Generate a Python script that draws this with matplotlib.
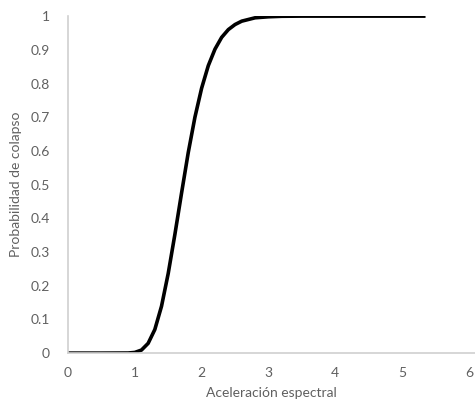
import matplotlib.pyplot as plt

# curva de fragilidad
aceleracion = [0, 0.5, 0.9, 1.0, 1.1, 1.2, 1.3, 1.4, 1.5, 1.6, 1.7, 1.8, 1.9, 2.0,
               2.1, 2.2, 2.3, 2.4, 2.5, 2.6, 2.8, 3.0, 3.2, 3.5, 4.0, 5.35]
probabilidad = [0, 0, 0.0003, 0.002, 0.009, 0.029, 0.07, 0.139, 0.236, 0.352, 0.475,
                0.595, 0.70, 0.786, 0.853, 0.902, 0.937, 0.96, 0.975, 0.985, 0.995,
                0.998, 0.9995, 1.0, 1.0, 1.0]
xticks = [0, 1, 2, 3, 4, 5, 6]
yticks = [0, 0.1, 0.2, 0.3, 0.4, 0.5, 0.6, 0.7, 0.8, 0.9, 1]
ylabels = ["0", "0.1", "0.2", "0.3", "0.4", "0.5", "0.6", "0.7", "0.8", "0.9", "1"]

plt.rcParams['font.family'] = ['Lato', 'DejaVu Sans']
gris = "#606060"

fig = plt.figure(figsize=(4.75, 4.13), dpi=100)
ax = fig.add_axes([0.143, 0.145, 0.857, 0.816])
ax.plot(aceleracion, probabilidad, color="black", lw=2.6, solid_capstyle="butt")

ax.set_xlim(0, 6.09)
ax.set_ylim(0, 1)
ax.set_xticks(xticks)
ax.set_yticks(yticks)
ax.set_yticklabels(ylabels)
ax.tick_params(length=0, labelsize=10, colors=gris, pad=10)
ax.tick_params(axis="y", pad=13)
for s in ["top", "right"]:
    ax.spines[s].set_visible(False)
for s in ["left", "bottom"]:
    ax.spines[s].set_color("#d0d0d0")
    ax.spines[s].set_linewidth(1.2)
ax.set_xlabel("Aceleración espectral", fontsize=10, color=gris, labelpad=6)
ax.set_ylabel("Probabilidad de colapso", fontsize=10, color=gris, labelpad=6)

fig.savefig("out.png", dpi=100)
